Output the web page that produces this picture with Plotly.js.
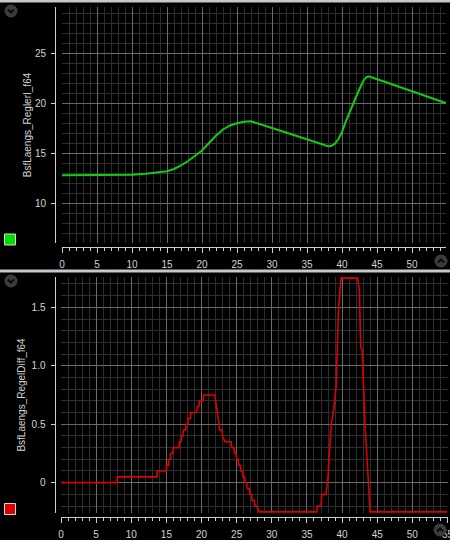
<!DOCTYPE html>
<html>
<head>
<meta charset="utf-8">
<script src="https://cdn.plot.ly/plotly-3.0.1.min.js"></script>
<style>
html,body{margin:0;padding:0;background:#000;}
#chart{width:450px;height:540px;}
</style>
</head>
<body>
<div id="chart"></div>
<script>
// ---- data ----
const titleTop = "BsfLaengs_ReglerI_f64";
const titleBottom = "BsfLaengs_RegelDiff_f64";

const greenX = [0, 5, 8, 10, 12, 14, 15, 16, 17, 18, 19, 20, 21, 22, 23, 24, 25, 26, 27, 28, 29, 30, 32, 34, 36, 37, 38, 38.5, 39, 39.5, 40, 40.5, 41, 41.5, 42, 42.5, 43, 43.4, 43.8, 44.5, 45, 47, 50, 52, 55];
const greenY = [12.77, 12.77, 12.77, 12.82, 12.92, 13.05, 13.17, 13.4, 13.75, 14.2, 14.7, 15.25, 16.0, 16.75, 17.35, 17.75, 17.97, 18.12, 18.17, 17.97, 17.72, 17.5, 17.05, 16.6, 16.15, 15.9, 15.68, 15.72, 15.95, 16.4, 17.1, 18.1, 19.0, 19.8, 20.6, 21.4, 22.15, 22.55, 22.67, 22.5, 22.37, 21.9, 21.17, 20.68, 19.95];

const redX = [0, 8, 8, 13.7, 13.7, 15.0, 15.0, 15.3, 15.3, 15.6, 15.6, 15.9, 16.0, 16.8, 16.85, 17.1, 17.15, 17.35, 17.4, 17.75, 17.8, 18.05, 18.1, 18.4, 18.45, 19.3, 19.4, 19.6, 19.7, 20.2, 20.3, 21.9, 22.0, 22.1, 22.3, 22.45, 22.6, 22.9, 23.0, 23.3, 24.2, 24.3, 24.6, 24.7, 24.9, 25.0, 25.2, 25.3, 25.5, 25.6, 25.8, 25.9, 26.1, 26.2, 26.4, 26.5, 26.8, 26.9, 27.1, 27.2, 27.5, 27.6, 27.9, 28.2, 36.4, 36.5, 37.0, 37.1, 37.7, 38.0, 38.45, 38.8, 39.15, 39.5, 39.85, 42.2, 42.45, 42.65, 42.85, 43.3, 43.6, 44.0, 55];
const redY = [0, 0, 0.05, 0.05, 0.1, 0.1, 0.15, 0.15, 0.2, 0.2, 0.25, 0.25, 0.3, 0.3, 0.35, 0.35, 0.4, 0.4, 0.45, 0.45, 0.5, 0.5, 0.55, 0.55, 0.6, 0.6, 0.65, 0.65, 0.7, 0.7, 0.75, 0.75, 0.7, 0.65, 0.6, 0.5, 0.45, 0.45, 0.4, 0.35, 0.35, 0.3, 0.3, 0.25, 0.25, 0.2, 0.2, 0.15, 0.15, 0.1, 0.1, 0.05, 0.05, 0, 0, -0.05, -0.05, -0.1, -0.1, -0.15, -0.15, -0.2, -0.2, -0.25, -0.25, -0.2, -0.2, -0.1, -0.1, 0.05, 0.5, 0.62, 0.82, 1.5, 1.75, 1.75, 1.65, 1.16, 1.14, 0.45, 0.1, -0.25, -0.25];

const xTickVals = [0, 5, 10, 15, 20, 25, 30, 35, 40, 45, 50, 55];
const yTopTickVals = [10, 15, 20, 25];
const yBotTickVals = [0, 0.5, 1.0, 1.5];
const yBotTickText = ["0", "0.5", "1.0", "1.5"];

// ---- layout helpers ----
const W = 450, H = 540;
const px = v => v / W;
const py = v => 1 - v / H;

const font = {family: "Liberation Sans, Arial, sans-serif", size: 10, color: "#d4d4d4"};
const axisCol = "#cfcfcf";
const majorGrid = "#6a6a6a";
const minorGrid = "#2e2e2e";

function xAxis(domPx, range, posPx) {
  return {
    domain: [px(domPx[0]), px(domPx[1])],
    range: range, anchor: "free", position: py(posPx),
    showline: true, linecolor: axisCol, linewidth: 1,
    ticks: "outside", ticklen: 5, tickcolor: axisCol, tickwidth: 1,
    tickvals: xTickVals, ticklabelstandoff: 3, ticklabeloverflow: "allow",
    showgrid: true, gridcolor: majorGrid, gridwidth: 1, zeroline: false,
    minor: {dtick: 1, tick0: 0, ticks: "outside", ticklen: 2.5, tickcolor: axisCol, showgrid: true, gridcolor: minorGrid, gridwidth: 1},
    tickfont: font, fixedrange: true
  };
}
function yAxis(domPx, range, posPx, tv, tt, minorDt, title, standoff) {
  const a = {
    domain: [py(domPx[1]), py(domPx[0])],
    range: range, anchor: "free", position: px(posPx),
    showline: true, linecolor: axisCol, linewidth: 1,
    ticks: "outside", ticklen: 4, tickcolor: axisCol, tickwidth: 1,
    tickvals: tv, ticklabelstandoff: 3,
    showgrid: true, gridcolor: majorGrid, gridwidth: 1, zeroline: false,
    minor: {dtick: minorDt, ticks: "", showgrid: true, gridcolor: minorGrid, gridwidth: 1},
    tickfont: font, fixedrange: true,
    title: {text: title, font: font, standoff: standoff}
  };
  if (tt) a.ticktext = tt;
  return a;
}

const traces = [
  {x: greenX, y: greenY, type: "scatter", mode: "lines", line: {color: "#12cc12", width: 2}, xaxis: "x", yaxis: "y", hoverinfo: "skip"},
  {x: redX, y: redY, type: "scatter", mode: "lines", line: {color: "#dd0000", width: 1.6}, xaxis: "x2", yaxis: "y2", hoverinfo: "skip"}
];

function rectPx(x0, y0, x1, y1, fill, line) {
  return {type: "rect", xref: "paper", yref: "paper", x0: px(x0), x1: px(x1), y0: py(y1), y1: py(y0),
    fillcolor: fill, line: line || {width: 0}, layer: "above"};
}
function circlePx(cx, cy, r) {
  return {type: "circle", xref: "paper", yref: "paper", x0: px(cx - r), x1: px(cx + r), y0: py(cy + r), y1: py(cy - r),
    fillcolor: "#3c3c3c", line: {width: 0}, layer: "above"};
}
function chevPx(cx, cy, up) {
  const d = up ? -1 : 1;
  const p = [[cx - 3, cy - 1.5 * d], [cx, cy + 1.5 * d], [cx + 3, cy - 1.5 * d]];
  const path = "M" + p.map(q => px(q[0]) + "," + py(q[1])).join(" L");
  return {type: "path", xref: "paper", yref: "paper", path: path, line: {color: "#0a0a0a", width: 2}, layer: "above"};
}

const shapes = [
  rectPx(0, 0, 450, 2.5, "#c8c8c8"),
  rectPx(0, 269.5, 450, 272.5, "#c8c8c8"),
  rectPx(4.5, 234, 15.5, 245, "#00dd00", {color: "#d8d8d8", width: 1}),
  rectPx(4.5, 503.5, 15.5, 514.5, "#dd0000", {color: "#d8d8d8", width: 1}),
  circlePx(11, 11, 6.5), chevPx(11, 11, false),
  circlePx(441, 261, 6.5), chevPx(441, 261, true),
  circlePx(11, 281, 6.5), chevPx(11, 281, false),
  circlePx(440, 530, 6.5), chevPx(440, 530, true)
];

const layout = {
  width: W, height: H,
  margin: {l: 0, r: 0, t: 0, b: 0, pad: 0},
  paper_bgcolor: "#000", plot_bgcolor: "#000",
  showlegend: false,
  xaxis: xAxis([62, 446], [0, 54.85], 247.3),
  yaxis: yAxis([7, 243], [6, 29.6], 55, yTopTickVals, null, 1, titleTop, 0),
  xaxis2: xAxis([61, 447.5], [0, 55], 517.3),
  yaxis2: yAxis([276.7, 513.3], [-0.262, 1.762], 54.5, yBotTickVals, yBotTickText, 0.1, titleBottom, 3),
  shapes: shapes
};

Plotly.newPlot("chart", traces, layout, {displayModeBar: false, staticPlot: true});
</script>
</body>
</html>
